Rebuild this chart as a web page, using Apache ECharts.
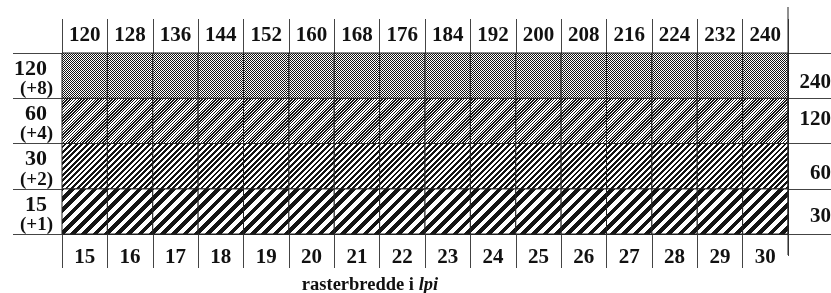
<!DOCTYPE html>
<html>
<head>
<meta charset="utf-8">
<script src="https://cdn.jsdelivr.net/npm/echarts@6/dist/echarts.min.js"></script>
<style>
  html, body { margin: 0; padding: 0; background: #fff; }
  #grafico { width: 831px; height: 293px; }
</style>
</head>
<body>
<div id="grafico"></div>
<script>
// rasterbredde (lpi) langs bunnen, og tilsvarende dpi-verdier langs toppen
const lpiBunn = ['15', '16', '17', '18', '19', '20', '21', '22', '23', '24', '25', '26', '27', '28', '29', '30'];
const dpiTopp = ['120', '128', '136', '144', '152', '160', '168', '176', '184', '192', '200', '208', '216', '224', '232', '240'];
// rader nedenfra og opp
const raderVenstre = ['15', '30', '60', '120'];
const raderTillegg = ['(+1)', '(+2)', '(+4)', '(+8)'];
const raderHoyre = ['30', '60', '120', '240'];
const striperPerRute = [4, 8, 16, 32];

const fontFamilie = '"Liberation Serif", "DejaVu Serif", serif';
const strekFarge = '#444';

// lag et skravurmønster med diagonale striper "/"
function lagMonster(antall) {
  const T = 45;
  const fin = T / antall < 2;
  const S = fin ? 46 : T;
  const c = document.createElement('canvas');
  c.width = S; c.height = S;
  const ctx = c.getContext('2d');
  const img = ctx.createImageData(S, S);
  for (let y = 0; y < S; y++) {
    for (let x = 0; x < S; x++) {
      let svart;
      if (fin) {
        svart = (x + y) % 2 === 0;
      } else {
        svart = ((x + y + 1) * antall / T) % 1 < 0.5;
      }
      const v = svart ? 20 : 255;
      const i = (y * S + x) * 4;
      img.data[i] = v; img.data[i + 1] = v; img.data[i + 2] = v; img.data[i + 3] = 255;
    }
  }
  ctx.putImageData(img, 0, 0);
  return { image: c, repeat: 'repeat' };
}
const monstre = striperPerRute.map(lagMonster);

let ruter = [];
raderVenstre.forEach((r, ri) => {
  lpiBunn.forEach((k, ki) => ruter.push([ki, ri]));
});

const hoyreForskyvning = [5, 7.5, -1.5, 6.5];
let hoyreRich = {};
hoyreForskyvning.forEach((d, i) => {
  hoyreRich['r' + i] = {
    fontFamily: fontFamilie, fontWeight: 'bold', fontSize: 21, color: '#111',
    padding: d >= 0 ? [2 * d, 0, 0, 0] : [0, 0, -2 * d, 0]
  };
});

let myChart = echarts.init(document.getElementById('grafico'), null, { renderer: 'canvas' });

let option = {
  animation: false,
  grid: { left: 62, right: 43, top: 53, bottom: 59, outerBoundsMode: 'none', containLabel: false },
  xAxis: [
    {
      type: 'category',
      data: lpiBunn,
      position: 'bottom',
      axisLine: { show: true, lineStyle: { color: '#222', width: 1 } },
      axisTick: { show: true, length: 34, lineStyle: { color: strekFarge, width: 1 } },
      axisLabel: { interval: 0, margin: 13, fontFamily: fontFamilie, fontWeight: 'bold', fontSize: 21, color: '#111' },
      name: 'rasterbredde i {i|lpi}',
      nameLocation: 'middle',
      nameGap: 42,
      nameTextStyle: {
        fontFamily: fontFamilie, fontWeight: 'bold', fontSize: 18.5, color: '#111',
        padding: [0, 110, 0, 0],
        rich: { i: { fontFamily: fontFamilie, fontWeight: 'bold', fontStyle: 'italic', fontSize: 18.5, color: '#111' } }
      }
    },
    {
      type: 'category',
      data: dpiTopp,
      position: 'top',
      axisLine: { show: true, lineStyle: { color: '#222', width: 1 } },
      axisTick: { show: true, length: 34, lineStyle: { color: strekFarge, width: 1 } },
      axisLabel: { interval: 0, margin: 7, fontFamily: fontFamilie, fontWeight: 'bold', fontSize: 21, color: '#111' }
    }
  ],
  yAxis: [
    {
      type: 'category',
      data: raderVenstre,
      position: 'left',
      axisLine: { show: true, lineStyle: { color: '#222', width: 1 } },
      axisTick: { show: true, length: 49, lineStyle: { color: strekFarge, width: 1 } },
      axisLabel: {
        interval: 0,
        showMinLabel: true,
        showMaxLabel: true,
        margin: 9,
        align: 'right',
        formatter: (v, i) => '{a|' + v + '}\n{b|' + raderTillegg[i] + '}',
        rich: {
          a: { fontFamily: fontFamilie, fontWeight: 'bold', fontSize: 22, lineHeight: 27, color: '#111', padding: [0, 6, 0, 0] },
          b: { fontFamily: fontFamilie, fontWeight: 'bold', fontSize: 19, lineHeight: 13, color: '#111' }
        }
      }
    },
    {
      type: 'category',
      data: raderHoyre,
      position: 'right',
      axisLine: { show: true, lineStyle: { color: '#222', width: 1 } },
      axisTick: { show: true, length: 43, lineStyle: { color: strekFarge, width: 1 } },
      axisLabel: {
        interval: 0,
        showMinLabel: true,
        showMaxLabel: true,
        margin: 43,
        align: 'right',
        formatter: (v, i) => '{r' + i + '|' + v + '}',
        rich: hoyreRich
      }
    }
  ],
  series: [
    {
      type: 'custom',
      xAxisIndex: 0,
      yAxisIndex: 0,
      data: ruter,
      renderItem: function (params, api) {
        let k = api.value(0), r = api.value(1);
        let p = api.coord([k, r]);
        let s = api.size([1, 1]);
        return {
          type: 'rect',
          shape: { x: p[0] - s[0] / 2, y: p[1] - s[1] / 2, width: s[0], height: s[1] },
          style: { fill: monstre[r], stroke: '#222', lineWidth: 1 }
        };
      }
    }
  ]
};

option && myChart.setOption(option);

// lang loddrett strek i høyre kant (slutter litt over de andre skillestrekene nede)
let sisteMidt = myChart.convertToPixel({ xAxisIndex: 0 }, lpiBunn.length - 1);
let nestSiste = myChart.convertToPixel({ xAxisIndex: 0 }, lpiBunn.length - 2);
let hoyreKant = sisteMidt + (sisteMidt - nestSiste) / 2;
myChart.setOption({
  graphic: [
    {
      type: 'line',
      shape: { x1: hoyreKant, y1: 256, x2: hoyreKant, y2: 270 },
      style: { stroke: '#fff', lineWidth: 3 },
      z: 100
    },
    {
      type: 'line',
      shape: { x1: hoyreKant, y1: 7, x2: hoyreKant, y2: 255 },
      style: { stroke: '#222', lineWidth: 1 },
      z: 101
    }
  ]
});
</script>
</body>
</html>
